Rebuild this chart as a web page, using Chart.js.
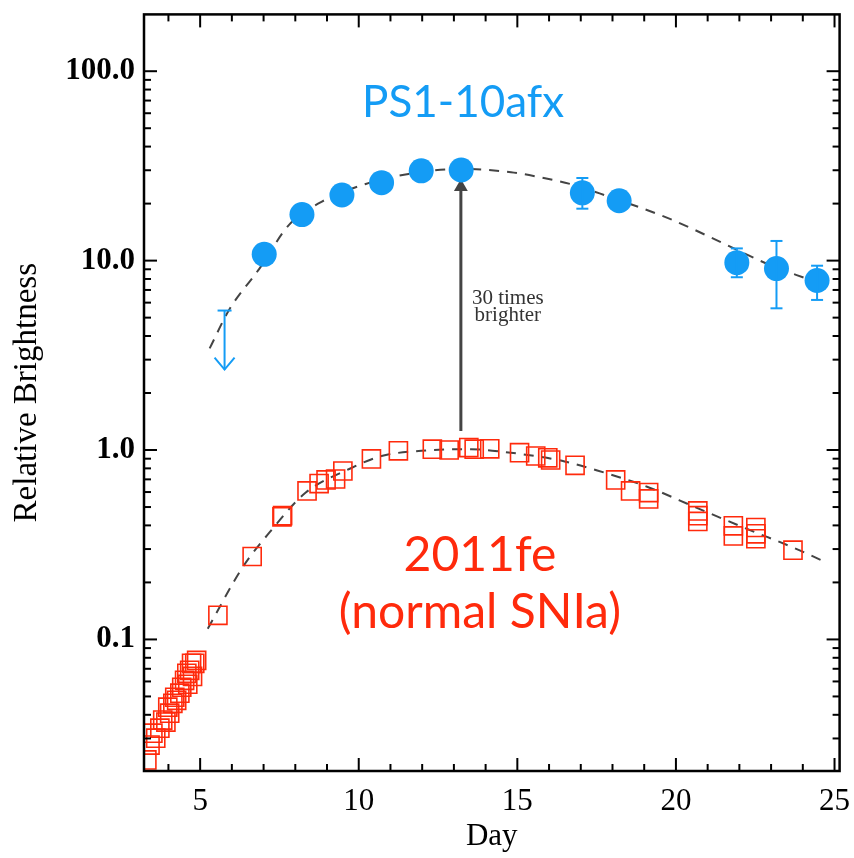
<!DOCTYPE html>
<html><head><meta charset="utf-8">
<script src="https://cdn.jsdelivr.net/npm/chart.js@4"></script>
<style>html,body{margin:0;padding:0;background:#fff}#wrap{width:854px;height:858px}</style>
</head><body><div id="wrap"><canvas id="c" width="854" height="858"></canvas></div>
<script>
// PS1-10afx detections
const psDays  = [7.02, 8.21, 9.47, 10.72, 11.97, 13.23, 17.05, 18.21, 21.92, 23.17, 24.45];
const psFlux  = [10.8, 17.5, 22.2, 25.8, 29.8, 30.1, 22.8, 20.7, 9.75, 9.08, 7.85];
const psErrLo = [null, null, null, null, null, null, 18.8, null, 8.17, 5.6, 6.2];
const psErrHi = [null, null, null, null, null, null, 27.3, null, 11.6, 12.7, 9.4];
// PS1-10afx upper limit
const psLimitDay = [5.77];
const psLimitTop = [5.45];
const psLimitTip = [2.66];
// SN 2011fe
const feDays = [3.32, 3.42, 3.51, 3.60, 3.73, 3.82, 3.92, 3.98, 4.04, 4.14, 4.20, 4.26, 4.36, 4.42, 4.51, 4.58, 4.61, 4.67, 4.73, 4.76, 4.83, 4.89,
  5.56, 6.64, 7.58, 7.60, 8.37, 8.75, 8.97, 9.27, 9.50, 10.40, 11.25, 12.32, 12.85, 13.47, 13.64, 14.13, 15.07, 15.58, 15.96, 16.05, 16.82,
  18.10, 18.57, 19.14, 19.14, 20.69, 20.69, 20.69, 21.81, 21.81, 22.52, 22.52, 22.52, 23.69];
const feFlux = [0.0231, 0.0277, 0.032, 0.0301, 0.034, 0.0375, 0.0366, 0.0439, 0.0408, 0.046, 0.0495, 0.0477, 0.052, 0.0559, 0.0608, 0.0662, 0.058, 0.0687, 0.0748, 0.0638, 0.0748, 0.0775,
  0.134, 0.274, 0.444, 0.450, 0.608, 0.665, 0.695, 0.703, 0.775, 0.897, 0.99, 1.01, 1.0, 1.03, 1.01, 1.015, 0.968, 0.93, 0.91, 0.886, 0.83,
  0.695, 0.608, 0.596, 0.552, 0.477, 0.45, 0.42, 0.398, 0.352, 0.39, 0.361, 0.34, 0.296];
// dashed fits
const psFitDays = [5.30, 5.92, 6.87, 7.81, 8.84, 10.22, 11.57, 13.23, 14.80, 15.64, 16.70, 17.74, 19.81, 21.38, 22.95, 24.20];
const psFitFlux = [3.44, 5.52, 9.08, 15.5, 20.5, 25.4, 28.7, 30.5, 29.3, 27.7, 25.3, 22.2, 16.6, 12.6, 9.5, 7.94];
const feFitDays = [5.24, 6.33, 7.18, 8.33, 9.70, 10.72, 11.97, 13.54, 14.61, 15.64, 16.49, 17.52, 19.09, 20.66, 22.23, 23.81, 24.58];
const feFitFlux = [0.114, 0.239, 0.366, 0.596, 0.794, 0.93, 0.99, 1.01, 0.975, 0.925, 0.870, 0.780, 0.640, 0.495, 0.384, 0.300, 0.262];
// "30 times brighter" arrow
const arrowDays = [13.22, 13.22];
const arrowFlux = [1.26, 24.5];
// axes
const xTicks = [5, 10, 15, 20, 25];
const yTicks = [0.1, 1, 10, 100];
const yTickLabels = ['0.1', '1.0', '10.0', '100.0'];
// annotation texts (day, flux)
const labelTexts = ['PS1-10afx', '2011fe', '(normal SNIa)', '30 times', 'brighter'];
const labelDays  = [13.29, 13.82, 13.82, 14.70, 14.70];
const labelFlux  = [68, 0.277, 0.139, 6.31, 5.14];

const BLUE = '#149cf5', RED = '#ff2a0c', DARK = '#444444';
const pts = (xs, ys) => xs.map((x, i) => ({x, y: ys[i]}));

const extras = {
  id: 'extras',
  afterDatasetsDraw(chart) {
    const ctx = chart.ctx, xs = chart.scales.x, ys = chart.scales.y, a = chart.chartArea;
    const line = (x1, y1, x2, y2) => { ctx.beginPath(); ctx.moveTo(x1, y1); ctx.lineTo(x2, y2); ctx.stroke(); };
    ctx.save();
    // error bars
    ctx.strokeStyle = BLUE; ctx.lineWidth = 2;
    psDays.forEach((d, i) => {
      if (psErrLo[i] == null) return;
      const px = xs.getPixelForValue(d), y1 = ys.getPixelForValue(psErrLo[i]), y2 = ys.getPixelForValue(psErrHi[i]);
      line(px, y1, px, y2); line(px - 6, y1, px + 6, y1); line(px - 6, y2, px + 6, y2);
    });
    // upper limit
    psLimitDay.forEach((d, i) => {
      const px = xs.getPixelForValue(d), yt = ys.getPixelForValue(psLimitTop[i]), yb = ys.getPixelForValue(psLimitTip[i]);
      line(px, yt, px, yb); line(px - 7, yt, px + 7, yt);
      ctx.beginPath(); ctx.moveTo(px - 10, yb - 12); ctx.lineTo(px, yb); ctx.lineTo(px + 10, yb - 12); ctx.stroke();
    });
    // texts
    const fonts = ['44px Lato', '48px Lato', '48px Lato', '21px "Liberation Serif"', '21px "Liberation Serif"'];
    const cols = [BLUE, RED, RED, '#333', '#333'];
    ctx.textAlign = 'center'; ctx.textBaseline = 'middle';
    labelTexts.forEach((t, i) => {
      ctx.font = fonts[i]; ctx.fillStyle = cols[i];
      ctx.fillText(t, xs.getPixelForValue(labelDays[i]), ys.getPixelForValue(labelFlux[i]));
    });
    // frame + inward ticks
    ctx.strokeStyle = '#000'; ctx.lineWidth = 2.5;
    ctx.strokeRect(a.left, a.top, a.right - a.left, a.bottom - a.top);
    ctx.lineWidth = 2;
    for (let d = Math.ceil(xs.min); d <= xs.max; d++) {
      const px = xs.getPixelForValue(d), L = d % 5 === 0 ? 13 : 7;
      line(px, a.bottom, px, a.bottom - L); line(px, a.top, px, a.top + L);
    }
    for (let e = -2; e <= 2; e++) for (let m = 1; m <= 9; m++) {
      const v = m * Math.pow(10, e);
      if (v < ys.min || v > ys.max) continue;
      const py = ys.getPixelForValue(v), L = m === 1 ? 13 : 7;
      line(a.left, py, a.left + L, py); line(a.right, py, a.right - L, py);
    }
    ctx.restore();
  }
};

new Chart(document.getElementById('c'), {
  type: 'scatter',
  data: {
    datasets: [
      { label: 'PS1-10afx', data: pts(psDays, psFlux), pointRadius: 12.5, pointHoverRadius: 12.5,
        backgroundColor: BLUE, borderColor: BLUE, borderWidth: 0, showLine: false, order: 1 },
      { label: '2011fe', data: pts(feDays, feFlux), pointStyle: 'rect', pointRadius: 12.8, pointHoverRadius: 12.8,
        backgroundColor: 'rgba(0,0,0,0)', borderColor: RED, borderWidth: 1.6, showLine: false, order: 1 },
      { label: 'PS fit', data: pts(psFitDays, psFitFlux), showLine: true, pointRadius: 0, borderColor: DARK,
        borderWidth: 2, borderDash: [10, 8], cubicInterpolationMode: 'monotone', order: 3 },
      { label: 'fe fit', data: pts(feFitDays, feFitFlux), showLine: true, pointRadius: 0, borderColor: DARK,
        borderWidth: 2, borderDash: [10, 8], cubicInterpolationMode: 'monotone', order: 3 },
      { label: 'arrow', data: pts(arrowDays, arrowFlux), showLine: true, borderColor: DARK, borderWidth: 3,
        pointStyle: 'triangle', pointRadius: [0, 8], backgroundColor: DARK, pointBorderWidth: 0, order: 2 }
    ]
  },
  options: {
    responsive: false, animation: false, devicePixelRatio: 1,
    layout: { padding: { top: 12, right: 11, left: 0, bottom: 0 } },
    plugins: { legend: { display: false }, tooltip: { enabled: false } },
    scales: {
      x: {
        type: 'linear', min: 3.23, max: 25.16,
        afterFit(s) { s.height = 87; s.paddingLeft = 0; s.paddingRight = 0; },
        afterBuildTicks(s) { s.ticks = xTicks.map(v => ({value: v})); },
        ticks: { font: { family: 'Liberation Serif', size: 31 }, color: '#000', padding: 12, maxRotation: 0 },
        grid: { display: false, drawTicks: false }, border: { display: false },
        title: { display: true, text: 'Day', font: { family: 'Liberation Serif', size: 31 }, color: '#000', padding: { top: 0, bottom: 3 } }
      },
      y: {
        type: 'logarithmic', min: 0.0202, max: 199.5,
        afterFit(s) { s.width = 144; s.paddingTop = 0; s.paddingBottom = 0; },
        afterBuildTicks(s) { s.ticks = yTicks.map(v => ({value: v})); },
        ticks: { callback: (v, i) => yTickLabels[i], font: { family: 'Liberation Serif', size: 31, weight: 'bold' }, color: '#000', padding: 9 },
        grid: { display: false, drawTicks: false }, border: { display: false },
        title: { display: true, text: 'Relative Brightness', font: { family: 'Liberation Serif', size: 33 }, color: '#000', padding: { top: 8, bottom: 0 } }
      }
    }
  },
  plugins: [extras]
});
</script></body></html>
